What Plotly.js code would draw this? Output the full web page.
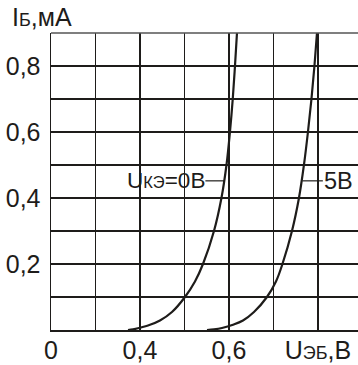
<!DOCTYPE html>
<html>
<head>
<meta charset="utf-8">
<script src="https://cdn.plot.ly/plotly-3.0.1.min.js"></script>
<style>html,body{margin:0;padding:0;background:#fff;}#chart{width:358px;height:365px;}</style>
</head>
<body>
<div id="chart"></div>
<script>
// Curve for U_KE = 0 V
var u0 = [0.373, 0.3843, 0.3978, 0.4225, 0.4449, 0.4719, 0.5011, 0.5236, 0.5416, 0.5663, 0.5831, 0.5944, 0.6022, 0.6085, 0.6135, 0.618];
var i0 = [0, 0.0018, 0.006, 0.0158, 0.0288, 0.0545, 0.1, 0.147, 0.2, 0.3, 0.4, 0.5, 0.6, 0.7, 0.8, 0.9];
// Curve for U_KE = 5 V
var u5 = [0.5506, 0.5663, 0.5843, 0.609, 0.6315, 0.6562, 0.6854, 0.7056, 0.7202, 0.7416, 0.7573, 0.7685, 0.7775, 0.7854, 0.7921, 0.7978];
var i5 = [0, 0.0018, 0.006, 0.0158, 0.0288, 0.0545, 0.1, 0.147, 0.2, 0.3, 0.4, 0.5, 0.6, 0.7, 0.8, 0.9];

var xTickVals = [0.2, 0.3, 0.4, 0.5, 0.6, 0.7, 0.8];
var xTickText = ["0", "", "0,4", "", "0,6", "", "U<span style='font-size:18px'>ЭБ</span>,В"];
var yTickVals = [0, 0.1, 0.2, 0.3, 0.4, 0.5, 0.6, 0.7, 0.8, 0.9];
var yTickText = ["", "", "0,2", "", "0,4", "", "0,6", "", "0,8", ""];

var yTitle = "I<span style='font-size:18px'>Б</span>,мА";
var label0 = "U<span style='font-size:16.5px'>КЭ</span>=0В";
var label5 = "5В";

var font = "Liberation Sans, Arial, sans-serif";
var ink = "#1e1c1a";
var fs = 25;

var traces = [
  {x: u0, y: i0, mode: "lines", line: {color: ink, width: 2.2, shape: "spline", smoothing: 1, simplify: false}, hoverinfo: "skip"},
  {x: u5, y: i5, mode: "lines", line: {color: ink, width: 2.2, shape: "spline", smoothing: 1, simplify: false}, hoverinfo: "skip"}
];

var layout = {
  width: 358, height: 365,
  margin: {l: 51, r: 0, t: 33, b: 35},
  paper_bgcolor: "#fff", plot_bgcolor: "#fff",
  showlegend: false,
  font: {family: font, size: fs, color: ink},
  xaxis: {
    range: [0.2, 0.89], tickmode: "array", tickvals: xTickVals, ticktext: xTickText,
    showgrid: true, gridcolor: ink, gridwidth: 1.5, zeroline: false,
    showline: true, linecolor: ink, linewidth: 1.5, ticks: "", ticklabelstandoff: -3,
    tickfont: {family: font, size: fs, color: ink}, fixedrange: true
  },
  yaxis: {
    range: [0, 0.9], tickmode: "array", tickvals: yTickVals, ticktext: yTickText,
    showgrid: true, gridcolor: ink, gridwidth: 1.5, zeroline: false,
    showline: true, linecolor: ink, linewidth: 1.5, ticks: "", ticklabelstandoff: 4,
    tickfont: {family: font, size: fs, color: ink}, fixedrange: true
  },
  shapes: [
    {type: "line", xref: "paper", yref: "paper", x0: 0, x1: 1, y0: 1, y1: 1, line: {color: "#555", width: 1.5}},
    {type: "line", xref: "x", yref: "y", x0: 0.547, x1: 0.59, y0: 0.452, y1: 0.452, line: {color: ink, width: 1.2}},
    {type: "line", xref: "x", yref: "y", x0: 0.765, x1: 0.811, y0: 0.452, y1: 0.452, line: {color: ink, width: 1.2}}
  ],
  annotations: [
    {text: yTitle, xref: "paper", yref: "paper", x: -0.0277, y: 1.054, xanchor: "center", yanchor: "middle", showarrow: false, borderpad: 0, font: {family: font, size: fs, color: ink}},
    {text: label0, xref: "x", yref: "y", x: 0.548, y: 0.452, xanchor: "right", yanchor: "middle", showarrow: false, borderpad: 0, font: {family: font, size: 22.5, color: ink}},
    {text: label5, xref: "x", yref: "y", x: 0.811, y: 0.452, xanchor: "left", yanchor: "middle", showarrow: false, borderpad: 0, font: {family: font, size: 23.5, color: ink}}
  ]
};

Plotly.newPlot("chart", traces, layout, {staticPlot: true, displayModeBar: false});
</script>
</body>
</html>
